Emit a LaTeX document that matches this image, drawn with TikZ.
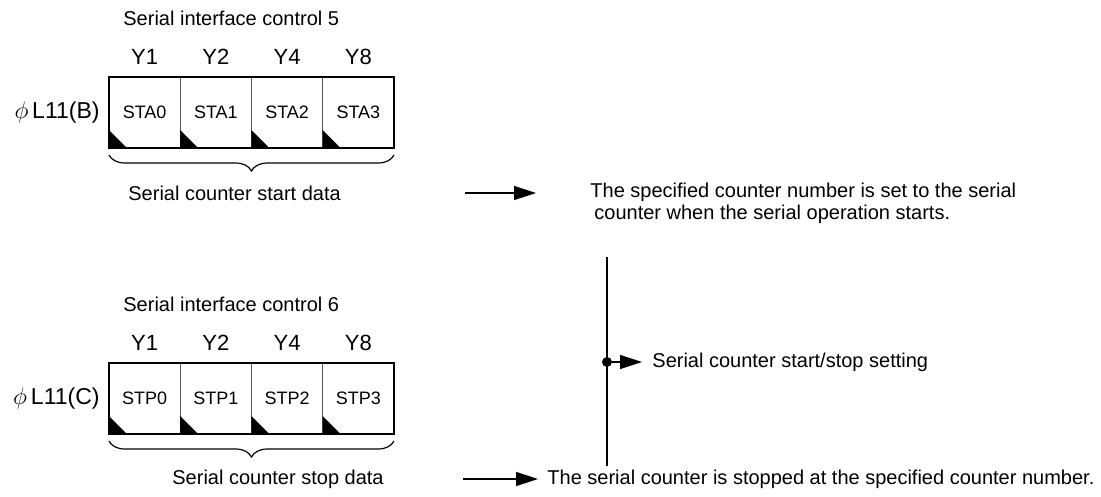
\documentclass[tikz,border=0pt]{standalone}
\usepackage{fontspec}
\setmainfont{Liberation Sans}
\usetikzlibrary{arrows.meta,positioning,calc,decorations.pathreplacing}
\definecolor{RegLine}{HTML}{555555}

\begin{document}
\begin{tikzpicture}[x=0.5pt,y=-0.5pt]
  \tikzset{regcell/.style={draw=RegLine,line width=0.5pt,minimum width=35.625pt,minimum height=35.5pt,
      inner sep=0pt,outer sep=0pt,font=\fontsize{9}{10}\selectfont},
    bitlabel/.style={inner sep=0pt,font=\fontsize{11}{12}\selectfont},
    reglabel/.style={inner sep=0pt,font=\fontsize{11.5}{13}\selectfont},
    plaintext/.style={inner sep=0pt,font=\fontsize{10}{11}\selectfont},
    databrace/.style={decorate,decoration={brace,mirror,amplitude=8pt},line width=0.6pt},
    flowarrow/.style={-{Triangle[length=11pt,width=7pt]},line width=0.7pt}}
  \useasboundingbox (0,0) rectangle (1101,497);

  % Serial interface control 5
  \node[plaintext,anchor=west] (titleA) at (123,18) {Serial interface control 5};
  \node[regcell] (a0) at (144.6,112.5) {STA0};
  \node[regcell,right=0pt of a0] (a1) {STA1};
  \node[regcell,right=0pt of a1] (a2) {STA2};
  \node[regcell,right=0pt of a2] (a3) {STA3};
  \foreach \c/\y in {a0/Y1,a1/Y2,a2/Y4,a3/Y8}{
    \node[bitlabel,above=6pt of \c] (\c-y) {\y};
    \fill (\c.south west) -- ++(0pt,9pt) -- ++(9pt,-9pt) -- cycle;}
  \draw[line width=0.9pt] (a0.north west) rectangle (a3.south east);
  \node[reglabel,left=4.5pt of a0] (regA) {{\fontsize{13}{13}\selectfont$\phi$}\,L11(B)};
  \draw[databrace] ($(a0.south west)+(0pt,-3.5pt)$) -- ($(a3.south east)+(0pt,-3.5pt)$);
  \node[plaintext,anchor=west] (dataA) at (128,193) {Serial counter start data};

  % Serial interface control 6
  \node[plaintext,anchor=west] (titleB) at (123,304) {Serial interface control 6};
  \node[regcell] (b0) at (144.6,398.5) {STP0};
  \node[regcell,right=0pt of b0] (b1) {STP1};
  \node[regcell,right=0pt of b1] (b2) {STP2};
  \node[regcell,right=0pt of b2] (b3) {STP3};
  \foreach \c/\y in {b0/Y1,b1/Y2,b2/Y4,b3/Y8}{
    \node[bitlabel,above=6pt of \c] (\c-y) {\y};
    \fill (\c.south west) -- ++(0pt,9pt) -- ++(9pt,-9pt) -- cycle;}
  \draw[line width=0.9pt] (b0.north west) rectangle (b3.south east);
  \node[reglabel,left=4.5pt of b0] (regB) {{\fontsize{13}{13}\selectfont$\phi$}\,L11(C)};
  \draw[databrace] ($(b0.south west)+(0pt,-3.5pt)$) -- ($(b3.south east)+(0pt,-3.5pt)$);
  \node[plaintext,anchor=west] (dataB) at (172,479) {Serial counter stop data};

  % notes on the right
  \coordinate (arrAs) at (465,193);
  \coordinate (arrAe) at (536,193);
  \draw[flowarrow] (arrAs) -- (arrAe);
  \node[plaintext,anchor=west,align=left] (noteA) at (590,203)
    {The specified counter number is set to the serial\\\hspace{2pt}counter when the serial operation starts.};

  \coordinate (vtop) at (607,257);
  \coordinate (vbot) at (607,466);
  \draw[line width=0.9pt] (vtop) -- (vbot);
  \node[circle,fill,inner sep=0pt,minimum size=5pt] (jn) at (607,362) {};
  \node[plaintext,anchor=west] (setlbl) at (652,362) {Serial counter start/stop setting};
  \draw[flowarrow,shorten >=5pt] (jn) -- (setlbl.west);

  \coordinate (arrBs) at (463,479);
  \coordinate (arrBe) at (538,479);
  \draw[flowarrow] (arrBs) -- (arrBe);
  \node[plaintext,anchor=west] (noteB) at (547,479) {The serial counter is stopped at the specified counter number.};
\end{tikzpicture}
\end{document}
